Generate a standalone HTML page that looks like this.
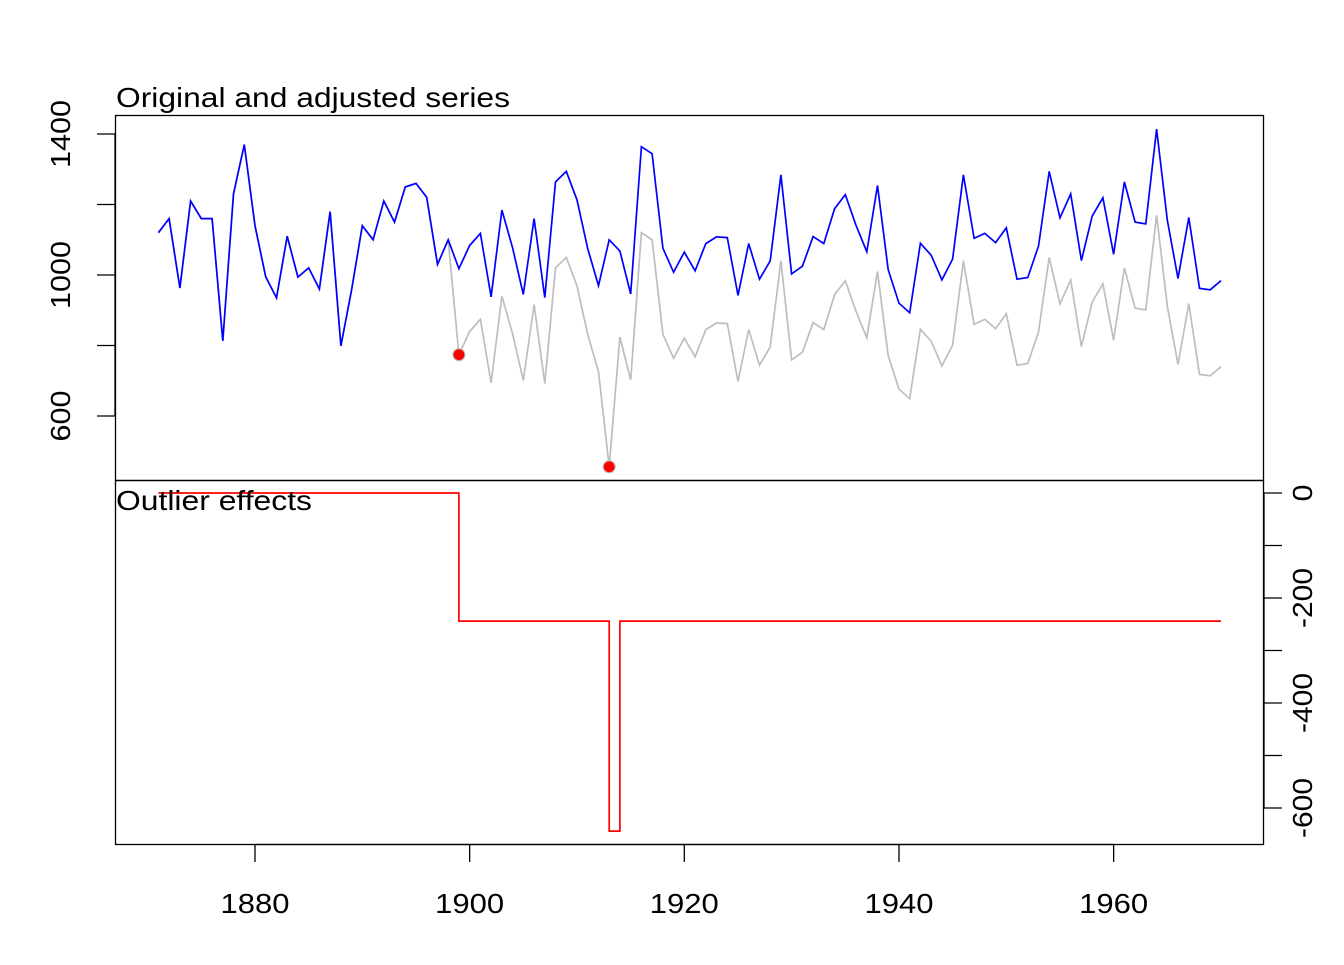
<!DOCTYPE html>
<html><head><meta charset="utf-8"><style>
html,body{margin:0;padding:0;background:#fff;}
svg text{font-family:"Liberation Sans",Arial,sans-serif;fill:#000;}
</style></head><body>
<svg id="s" width="1344" height="960" xmlns="http://www.w3.org/2000/svg"></svg>
<script>
var d=[1120,1160,963,1210,1160,1160,813,1230,1370,1140,995,935,1110,994,1020,960,1180,799,958,1140,1100,1210,1150,1250,1260,1220,1030,1100,774,840,874,694,940,833,701,916,692,1020,1050,969,831,726,456,824,702,1120,1100,832,764,821,768,845,864,862,698,845,744,796,1040,759,781,865,845,944,984,897,822,1010,771,676,649,846,812,742,801,1040,860,874,848,890,744,749,838,1050,918,986,797,923,975,815,1020,906,901,1170,912,746,919,718,714,740];
function X(y){return 255+(y-1880)*10.733;}
function Y(v){return 275-(v-1000)*0.3525;}
function E(v){return 493-v*0.525;}
var eff=[],adj=[];
for(var i=0;i<100;i++){var yr=1871+i;var e=0;if(yr>=1899)e-=244;if(yr==1913)e-=400;eff.push(e);adj.push(d[i]-e);}
var s='';
s+='<rect x="115.5" y="115.5" width="1148" height="365" fill="none" stroke="#000" stroke-width="1.3"/>';
s+='<rect x="115.5" y="480.5" width="1148" height="364" fill="none" stroke="#000" stroke-width="1.3"/>';
var p='';for(i=0;i<100;i++)p+=(i?'L':'M')+X(1871+i).toFixed(1)+','+Y(d[i]).toFixed(1);
s+='<path d="'+p+'" fill="none" stroke="#bebebe" stroke-width="1.7"/>';
p='';for(i=0;i<100;i++)p+=(i?'L':'M')+X(1871+i).toFixed(1)+','+Y(adj[i]).toFixed(1);
s+='<path d="'+p+'" fill="none" stroke="#0000ff" stroke-width="1.7"/>';
[[1899,774],[1913,456]].forEach(function(q){s+='<circle cx="'+X(q[0])+'" cy="'+Y(q[1])+'" r="6" fill="#ff0000" stroke="#bebebe" stroke-width="1.2"/>';});
p='M'+X(1871)+','+E(0);for(i=1;i<100;i++){p+='L'+X(1871+i).toFixed(1)+','+E(eff[i-1]).toFixed(1)+'L'+X(1871+i).toFixed(1)+','+E(eff[i]).toFixed(1);}
s+='<path d="'+p+'" fill="none" stroke="#ff0000" stroke-width="1.7"/>';
[600,800,1000,1200,1400].forEach(function(v){s+='<line x1="115" x2="97" y1="'+Y(v)+'" y2="'+Y(v)+'" stroke="#000" stroke-width="1.3"/>';});
s+='<line x1="115" x2="115" y1="'+Y(1400)+'" y2="'+Y(600)+'" stroke="#000" stroke-width="1.3"/>';
[600,1000,1400].forEach(function(v){var L=String(v).length*17;s+='<text transform="translate(70,'+Y(v)+') rotate(-90)" text-anchor="middle" font-size="28" textLength="'+L+'" lengthAdjust="spacingAndGlyphs">'+v+'</text>';});
for(var v=0;v>=-600;v-=100)s+='<line x1="1264" x2="1282" y1="'+E(v)+'" y2="'+E(v)+'" stroke="#000" stroke-width="1.3"/>';
s+='<line x1="1264" x2="1264" y1="'+E(0)+'" y2="'+E(-600)+'" stroke="#000" stroke-width="1.3"/>';
[0,-200,-400,-600].forEach(function(v){var L=v==0?17:60;s+='<text transform="translate(1312,'+E(v)+') rotate(-90)" text-anchor="middle" font-size="28" textLength="'+L+'" lengthAdjust="spacingAndGlyphs">'+v+'</text>';});
for(var yr=1880;yr<=1960;yr+=20){s+='<line x1="'+X(yr)+'" x2="'+X(yr)+'" y1="844" y2="862" stroke="#000" stroke-width="1.3"/>';s+='<text x="'+X(yr)+'" y="913" text-anchor="middle" font-size="28" textLength="69" lengthAdjust="spacingAndGlyphs">'+yr+'</text>';}
s+='<line x1="'+X(1880)+'" x2="'+X(1960)+'" y1="844.5" y2="844.5" stroke="#000" stroke-width="1.3"/>';
s+='<text x="116" y="107" font-size="28" textLength="394" lengthAdjust="spacingAndGlyphs">Original and adjusted series</text>';
s+='<text x="116" y="510" font-size="28" textLength="196" lengthAdjust="spacingAndGlyphs">Outlier effects</text>';
document.getElementById('s').innerHTML=s;
</script>
</body></html>
